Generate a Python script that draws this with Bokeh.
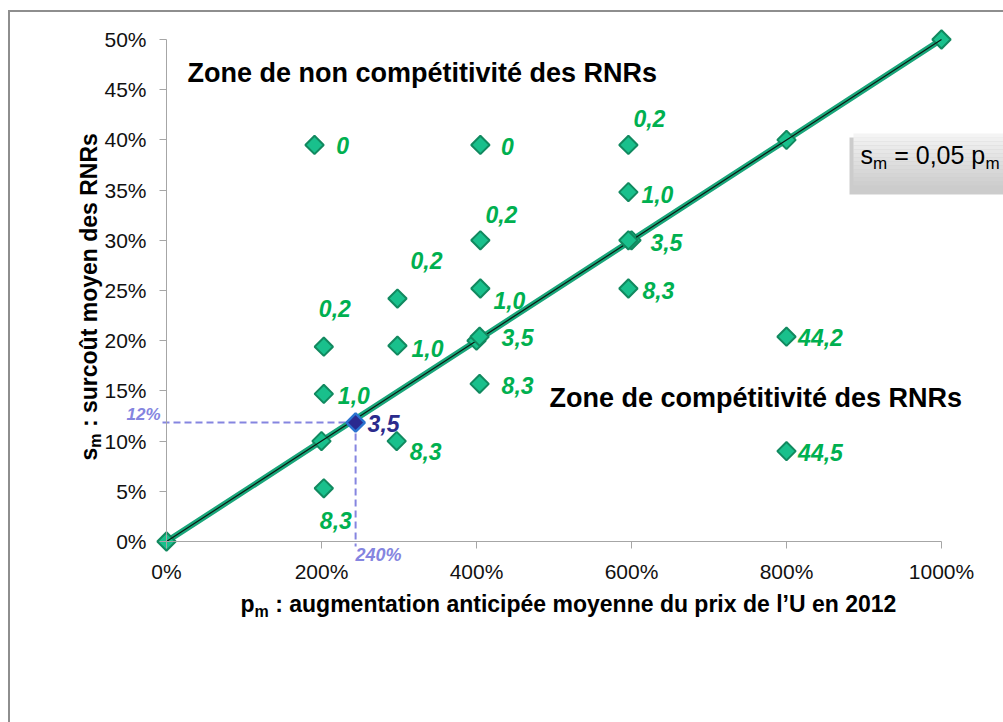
import math
from bokeh.plotting import figure
from bokeh.models import Range1d, FixedTicker, PrintfTickFormatter, Label, ColumnDataSource
from bokeh.core.properties import value
from bokeh.embed import file_html
from bokeh.resources import INLINE

# ---------------- data ----------------
line_p = [0, 200, 400, 600, 800, 1000]
line_s = [0, 10, 20, 30, 40, 50]

pts_p = [191, 405, 596, 596, 596, 596, 405, 405, 404, 404, 298, 298, 297, 203, 203, 203, 800, 800]
pts_s = [39.5, 39.5, 39.5, 34.8, 30.0, 25.2, 30.0, 25.2, 20.4, 15.7, 24.2, 19.5, 10.0, 19.4, 14.7, 5.3, 20.4, 9.0]
pts_lbl = ["0", "0", "0,2", "1,0", "3,5", "8,3", "0,2", "1,0", "3,5", "8,3",
           "0,2", "1,0", "8,3", "0,2", "1,0", "8,3", "44,2", "44,5"]

hl_p = [244]
hl_s = [11.85]
hl_lbl = ["3,5"]
hl_p_text = "240%"
hl_s_text = "12%"

x_ticks = [0, 200, 400, 600, 800, 1000]
y_ticks = [0, 5, 10, 15, 20, 25, 30, 35, 40, 45, 50]

zone_top = "Zone de non compétitivité des RNRs"
zone_bottom = "Zone de compétitivité des RNRs"

# label offsets (px, styling)
lbl_dx = [28, 27, 21, 29, 38, 30, 21, 29, 38, 38, 29, 30, 29, 11, 30, 12, 34, 34]
lbl_dy = [1, 2, -26, 2, 2, 2, -26, 12, 1, 2, -38, 3, 10, -38, 2, 32, 1, 1]

# ---------------- layout helpers (page pixel -> data) ----------------
X0, XS = 166.0, 0.775
Y0, YS = 541.0, 10.04
def xd(px):
    return (px - X0) / XS
def yd(py):
    return (Y0 - py) / YS

OX, OY = 10, 12          # page position of the canvas origin
W, H = 1003 - OX, 722 - OY

FONT = "Liberation Sans"
GREEN_FILL = "#19c08c"
GREEN_LINE = "#11895f"
LBL_GREEN = "#00b050"
LAV = "#8585e0"

p = figure(frame_width=W, frame_height=H,
           min_border_left=0, min_border_right=0, min_border_top=0, min_border_bottom=0,
           x_range=Range1d(xd(OX), xd(1003)), y_range=Range1d(yd(722), yd(OY)),
           output_backend="svg", toolbar_location=None, title_location=None)
p.styles = {"margin-left": "8px", "margin-top": "10px",
            "border-left": "2px solid #8e8e8e", "border-top": "2px solid #8e8e8e"}
p.outline_line_color = None
p.grid.visible = False
p.background_fill_color = "white"
p.border_fill_color = "white"

for ax, ticks, bnds in ((p.xaxis[0], x_ticks, (0, 1000)), (p.yaxis[0], y_ticks, (0, 50))):
    ax.fixed_location = 0
    ax.bounds = bnds
    ax.ticker = FixedTicker(ticks=ticks)
    ax.formatter = PrintfTickFormatter(format="%d%%")
    ax.axis_line_color = "#a6a6a6"
    ax.major_tick_line_color = "#a6a6a6"
    ax.major_tick_out = 7
    ax.major_tick_in = 0
    ax.minor_tick_line_color = None
    ax.major_label_text_font = FONT
    ax.major_label_text_font_size = "21px"
    ax.major_label_text_color = "#111111"
p.yaxis.major_label_standoff = 13
p.xaxis.major_label_standoff = 11

# equation box (shadow + gradient)
p.quad(left=xd(849), right=xd(1010), top=yd(137), bottom=yd(194), fill_color="#8f8f8f",
       fill_alpha=0.45, line_color=None)
nb = 14
top_px, bot_px = 133.0, 189.0
for i in range(nb):
    t = top_px + (bot_px - top_px) * i / nb
    b = top_px + (bot_px - top_px) * (i + 1) / nb
    g = int(244 - (244 - 204) * i / (nb - 1))
    p.quad(left=xd(853), right=xd(1010), top=yd(t), bottom=yd(b),
           fill_color="#%02x%02x%02x" % (g, g, g), line_color=None)

# dashed guides to highlighted point
p.segment(x0=[xd(162), hl_p[0]], y0=[hl_s[0], hl_s[0]], x1=[hl_p[0], hl_p[0]], y1=[hl_s[0], yd(546)],
          line_color=LAV, line_width=2, line_dash="7 4")

# main line
p.line(line_p, line_s, line_color="#19a67a", line_width=6)
p.scatter(line_p, line_s, marker="square", angle=math.pi / 4, size=13,
          fill_color=GREEN_FILL, line_color=GREEN_LINE, line_width=2)
p.line(line_p, line_s, line_color="#0b1a12", line_width=1.2)

# scatter points
src = ColumnDataSource(dict(x=pts_p, y=pts_s, t=pts_lbl, dx=lbl_dx, dy=lbl_dy))
p.scatter("x", "y", source=src, marker="square", angle=math.pi / 4, size=13,
          fill_color=GREEN_FILL, line_color=GREEN_LINE, line_width=2)
p.text("x", "y", text="t", source=src, x_offset="dx", y_offset="dy",
       text_font=value(FONT), text_font_style="bold italic", text_font_size="23px",
       text_color=LBL_GREEN, text_align="center", text_baseline="middle")

# highlighted point
hsrc = ColumnDataSource(dict(x=hl_p, y=hl_s, t=hl_lbl))
p.scatter("x", "y", source=hsrc, marker="square", angle=math.pi / 4, size=13,
          fill_color="#2a2a90", line_color="#2a73d0", line_width=2.5)
p.text("x", "y", text="t", source=hsrc, x_offset=28, y_offset=1,
       text_font=value(FONT), text_font_style="bold italic", text_font_size="23px",
       text_color="#2b2b8c", text_align="center", text_baseline="middle")

def lab(px, py, text, size, style="normal", color="black", align="left", angle=0.0):
    p.add_layout(Label(x=xd(px), y=yd(py), text=text, text_font=FONT, text_font_size=size,
                       text_font_style=style, text_color=color, text_align=align,
                       text_baseline="middle", angle=angle))

lab(160, 414, hl_s_text, "17px", "bold italic", LAV, "right")
lab(378, 554, hl_p_text, "18px", "bold italic", LAV, "center")

lab(187, 72, zone_top, "27px", "bold")
lab(549, 397, zone_bottom, "27px", "bold")

# equation text
lab(860, 154, "s", "25px")
lab(872.5, 163, "m", "17px")
lab(893.7, 154, "= 0,05 p", "25px")
lab(985, 163, "m", "17px")

# x axis title
lab(240, 603, "p", "23px", "bold")
lab(254.1, 610.5, "m", "16px", "bold")
lab(274.7, 603, ": augmentation anticipée moyenne du prix de l\u2019U en 2012", "23px", "bold")

# y axis title (rotated)
lab(88, 460, "s", "23px", "bold", angle=math.pi / 2)
lab(95, 447.2, "m", "16px", "bold", angle=math.pi / 2)
lab(88, 426.6, ": surcoût moyen des RNRs", "23px", "bold", angle=math.pi / 2)

open("out.html", "w").write(file_html(p, INLINE))
